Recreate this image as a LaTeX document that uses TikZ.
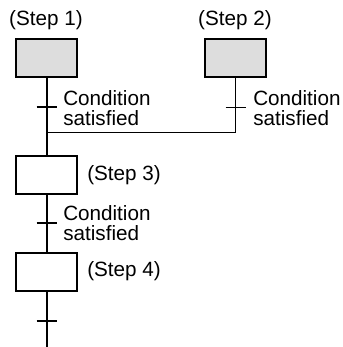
\documentclass[tikz,border=0pt]{standalone}
\usepackage{fontspec}
\setmainfont{Liberation Sans}
\usetikzlibrary{positioning}
\definecolor{stepgray}{RGB}{221,221,221}

\begin{document}
\begin{tikzpicture}[x=0.75pt,y=-0.75pt,
    stepbox/.style={draw,line width=0.8pt,minimum width=45.75pt,minimum height=28.5pt,inner sep=0pt},
    active/.style={stepbox,fill=stepgray},
    lbl/.style={font=\fontsize{15.5}{15}\selectfont,inner sep=0pt,align=left},
    flow/.style={line width=1.5pt},
    link/.style={line width=0.75pt},
    tick/.style={line width=1.5pt}
]
\useasboundingbox (0,0) rectangle (343,347);
% steps
\node[active] (s1) at (46.5,58) {};
\node[active] (s2) at (235.5,58) {};
\node[stepbox] (s3) at (46.5,175) {};
\node[stepbox] (s4) at (46.5,272) {};
\node[lbl] (l1) at (46,20) {(Step 1)};
\node[lbl] (l2) at (235,20) {(Step 2)};
\node[lbl,anchor=west] (l3) at (87,175) {(Step 3)};
\node[lbl,anchor=west] (l4) at (87,271) {(Step 4)};
% transitions
\coordinate (t1) at (46.5,107);
\coordinate (t2) at (235.5,107);
\coordinate (t3) at (46.5,223);
\coordinate (t4) at (46.5,321);
\coordinate (j1) at (46.5,132);
\coordinate (j2) at (235.5,132);
\coordinate (end) at (46.5,347);
\node[lbl,anchor=west] (c1) at (63,108) {Condition\\satisfied};
\node[lbl,anchor=west] (c2) at (253,108) {Condition\\satisfied};
\node[lbl,anchor=west] (c3) at (63,223) {Condition\\satisfied};
% connectors
\draw[flow] (s1) -- (j1) -- (s3);
\draw[link] (s2) -- (j2) -- (j1);
\draw[flow] (s3) -- (s4);
\draw[flow] (s4) -- (end);
\foreach \t in {t1,t3,t4}
  \draw[tick] ([xshift=-7.5pt]\t) -- ([xshift=7.5pt]\t);
\draw[link] ([xshift=-7.5pt]t2) -- ([xshift=7.5pt]t2);
\end{tikzpicture}
\end{document}
